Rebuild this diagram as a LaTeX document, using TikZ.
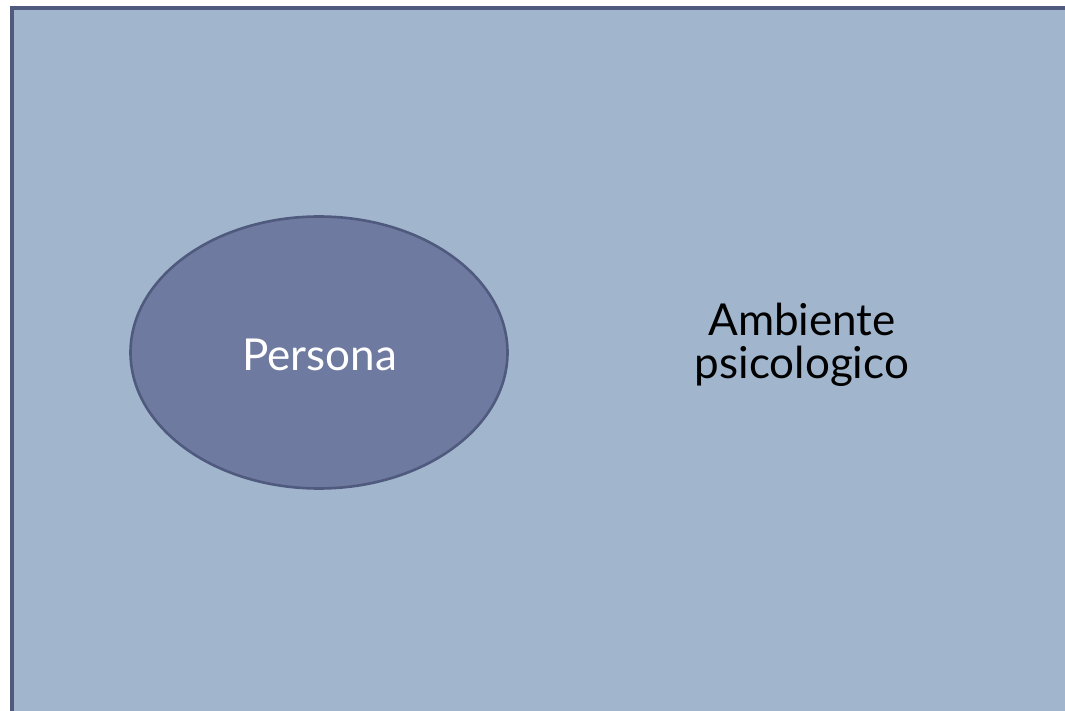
\documentclass[tikz,border=0pt]{standalone}
\usepackage{fontspec}
\setmainfont{Lato}
\usetikzlibrary{shapes.geometric}
\definecolor{bgblue}{HTML}{A1B6CD}
\definecolor{frame}{HTML}{505A7E}
\definecolor{ellfill}{HTML}{6E7AA0}
\tikzset{
  label text/.style={font=\fontsize{44}{43}\selectfont, align=center, inner sep=0pt},
}
\begin{document}
\begin{tikzpicture}[x=1pt,y=-1pt]
\useasboundingbox (0,0) rectangle (1065,711);
\fill[white] (0,0) rectangle (1065,711);
\fill[bgblue] (12,8) rectangle (1070,716);
\draw[frame, line width=4pt] (12,720) -- (12,8) -- (1070,8);
\node[ellipse, draw=frame, fill=ellfill, line width=2.6pt, minimum width=377pt, minimum height=272pt, inner sep=0pt] (persona) at (319,352.5) {};
\node[label text, text=white, anchor=base] (ptext) at (319.5,370) {Persona};
\node[label text, text=black, anchor=base] (amb1) at (802,335) {Ambiente};
\node[label text, text=black, anchor=base] (amb2) at (802,378) {psicologico};
\end{tikzpicture}
\end{document}
